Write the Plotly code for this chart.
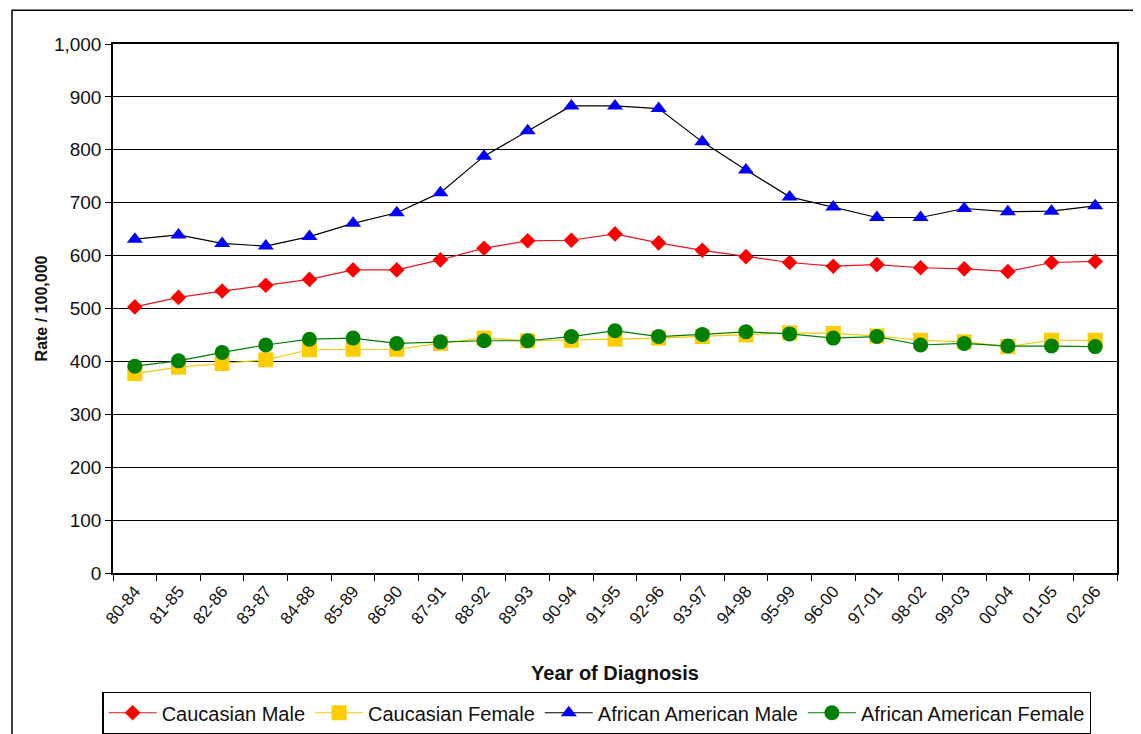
import plotly.graph_objects as go

years = ["80-84", "81-85", "82-86", "83-87", "84-88", "85-89", "86-90", "87-91",
         "88-92", "89-93", "90-94", "91-95", "92-96", "93-97", "94-98", "95-99",
         "96-00", "97-01", "98-02", "99-03", "00-04", "01-05", "02-06"]

cauc_male = [503, 521, 533, 544, 555, 573, 573, 592, 614, 628, 629, 641,
             624, 610, 598, 587, 580, 583, 577, 575, 570, 587, 589]
cauc_female = [377, 389, 396, 403, 422, 423, 423, 434, 444, 439, 440, 442,
               444, 447, 450, 454, 453, 448, 440, 437, 428, 440, 440]
aa_male = [631, 639, 623, 618, 636, 661, 681, 719, 788, 836, 883, 883,
           878, 815, 762, 711, 692, 672, 672, 689, 683, 684, 694]
aa_female = [391, 401, 417, 431, 442, 444, 434, 437, 439, 439, 447, 458,
             447, 451, 456, 452, 444, 447, 431, 434, 429, 429, 428]

fig = go.Figure()

# series: name, values, line colour, marker colour, symbol, marker size
series = [
    ("Caucasian Male", cauc_male, "#E8141B", "#FF0000", "diamond", 12),
    ("Caucasian Female", cauc_female, "#F5C800", "#FFCC00", "square", 15),
    ("African American Male", aa_male, "#000000", "#0000FF", "triangle-up", 14),
    ("African American Female", aa_female, "#008000", "#008000", "circle", 15),
]
for name, vals, lc, mc, sym, sz in series:
    fig.add_scatter(x=years, y=vals, name=name, mode="lines+markers",
                    line=dict(color=lc, width=1.2),
                    marker=dict(symbol=sym, color=mc, size=sz, line=dict(width=0)))

# outer frame around the chart
fig.add_shape(type="rect", xref="paper", yref="paper",
              x0=-0.1006, x1=1.2, y0=-0.5, y1=1.064,
              line=dict(color="black", width=1.5), layer="below")

# page body has an 8px margin, so the figure is shrunk by 8px and margins shifted
fig.update_layout(
    width=1133, height=726,
    margin=dict(l=105, r=24, t=36, b=161, autoexpand=False),
    paper_bgcolor="white", plot_bgcolor="white",
    font=dict(family="Liberation Sans, Arial", size=16, color="#111111"),
    legend=dict(orientation="h", x=0.482, xanchor="center", y=-0.2647, yanchor="middle",
                bordercolor="black", borderwidth=1.2, font=dict(size=20),
                itemwidth=48, tracegroupgap=0),
    showlegend=True,
)
fig.update_xaxes(
    type="category", range=[-0.5, len(years) - 0.5],
    tickangle=-50, tickson="boundaries", automargin=False,
    ticks="outside", ticklen=6, tickcolor="black",
    showline=True, linecolor="black", linewidth=1.5, mirror=True,
    showgrid=False, tickfont=dict(size=17),
    title=dict(text="<b>Year of Diagnosis</b>", font=dict(size=20), standoff=39),
)
fig.update_yaxes(
    range=[0, 1000], tickvals=list(range(0, 1001, 100)), tickformat=",d",
    automargin=False,
    ticks="outside", ticklen=6, tickcolor="black",
    showline=True, linecolor="black", linewidth=1.5, mirror=True,
    showgrid=True, gridcolor="black", gridwidth=1.2, zeroline=False,
    tickfont=dict(size=19),
    title=dict(text="<b>Rate / 100,000</b>", font=dict(size=16), standoff=2),
)

fig.write_html("out.html")
